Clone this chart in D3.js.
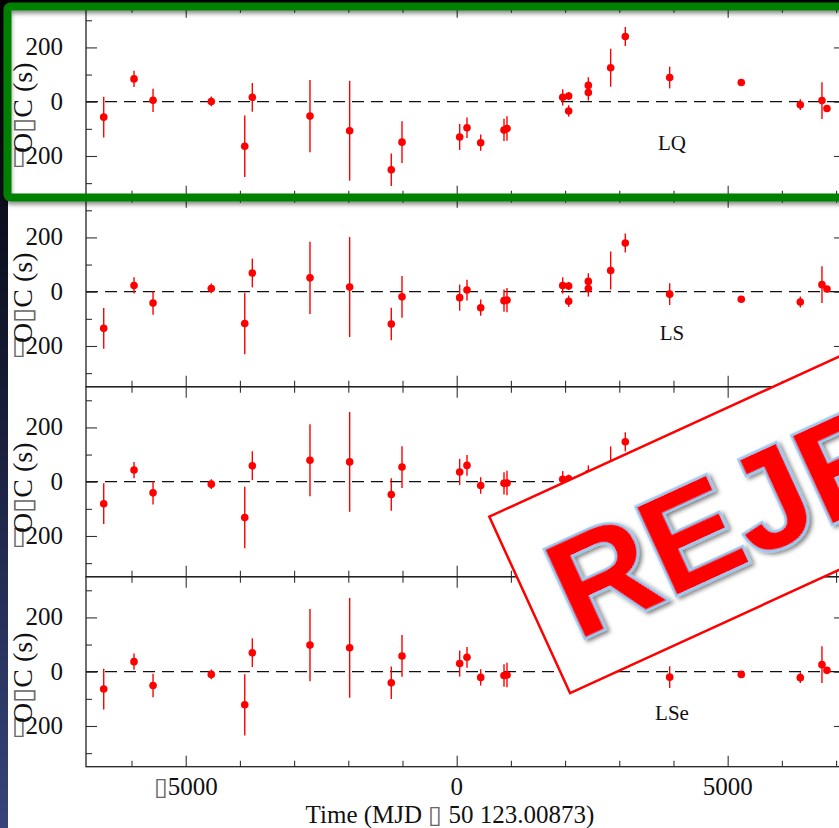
<!DOCTYPE html>
<html>
<head>
<meta charset="utf-8">
<script src="https://cdn.jsdelivr.net/npm/d3@7"></script>
<style>
  body { margin: 0; background: #fff; }
  svg { display: block; }
</style>
</head>
<body>
<div id="chart"></div>
<script>
// epochs of the timings, days from MJD 50 123.00873 (same for every panel)
const time = [-6513, -5954, -5603, -4528, -3911, -3771, -2707, -1975, -1207, -1009,
  55, 190, 443, 873, 928, 1956, 2066, 2066, 2429, 2429, 2841, 3111, 3930, 5251, 6340, 6740, 6832];
// 1-sigma error bars (s)
const errBar = [75, 30, 43, 18, 113, 53, 133, 184, 60, 77,
  48, 38, 30, 41, 45, 30, 15, 21, 30, 30, 70, 35, 40, 8, 20, 68, 6];
// O-C residuals (s) per ephemeris
const valLQ = [-57, 84, 5, 1, -164, 16, -53, -107, -251, -149,
  -130, -96, -151, -104, -99, 16, 21, -34, 60, 34, 125, 240, 89, 71, -11, 4, -25];
const valLS = [-135, 23, -42, 12, -117, 69, 51, 17, -119, -19,
  -22, 6, -59, -33, -31, 23, 21, -35, 38, 12, 78, 179, -9, -28, -38, 26, 10];
const valLN = [-81, 43, -41, -9, -132, 59, 79, 73, -47, 54,
  36, 60, -14, -6, -5, 9, 11, -30, 30, 8, 60, 147, -10, -15, -30, 20, 5];
const valLSe = [-64, 37, -51, -10, -122, 70, 98, 88, -41, 58,
  30, 53, -21, -14, -12, 10, 12, -25, 30, 10, 60, 120, -20, -10, -22, 26, 5];
const panelNames = ["LQ", "LS", "LN", "LSe"];
const panelValues = [valLQ, valLS, valLN, valLSe];

const xMajor = [-5000, 0, 5000];
const xMinor = [-6000, -4000, -3000, -2000, -1000, 1000, 2000, 3000, 4000, 6000, 7000];
const yMajor = [-200, 0, 200];
const yMinor = [-300, -100, 100, 300];

const W = 839, H = 828;
const left = 86, right = 845, top0 = 6.7, panelH = 190;
const serif = "'Liberation Serif', 'Times New Roman', serif";
const BOX = "\u25AF"; // the missing minus glyph shows as a box

// write a string into a text element, drawing the box glyph a bit lighter
function boxed(sel, str) {
  String(str).split(/(\u25AF)/).filter(s => s !== "").forEach(part => {
    const t = sel.append("tspan").text(part);
    if (part === BOX) t.attr("fill", "#666");
  });
}
const fmt = d => d < 0 ? BOX + Math.abs(d) : String(d);

const svg = d3.select("#chart").append("svg")
  .attr("width", W).attr("height", H);

const defs = svg.append("defs");
const grad = defs.append("linearGradient").attr("id", "band")
  .attr("x1", 0).attr("y1", 0).attr("x2", 0).attr("y2", 1);
grad.append("stop").attr("offset", 0).attr("stop-color", "#000");
grad.append("stop").attr("offset", 0.45).attr("stop-color", "#151a33");
grad.append("stop").attr("offset", 1).attr("stop-color", "#36447a");

const shadow = defs.append("filter").attr("id", "shadow")
  .attr("x", "-10%").attr("y", "-10%").attr("width", "130%").attr("height", "140%");
shadow.append("feDropShadow").attr("dx", 0).attr("dy", 3).attr("stdDeviation", 2)
  .attr("flood-color", "#000").attr("flood-opacity", 0.45);

const txtShadow = defs.append("filter").attr("id", "txtShadow")
  .attr("x", "-10%").attr("y", "-10%").attr("width", "130%").attr("height", "140%");
txtShadow.append("feDropShadow").attr("dx", 2).attr("dy", 3).attr("stdDeviation", 2)
  .attr("flood-color", "#000").attr("flood-opacity", 0.5);

// background: white page with dark slide strip on the left and on top
svg.append("rect").attr("width", W).attr("height", H).attr("fill", "#fff");
svg.append("rect").attr("width", 8).attr("height", H).attr("fill", "url(#band)");
svg.append("rect").attr("width", W).attr("height", 3).attr("fill", "#000");

const x = d3.scaleLinear().domain([-6840, 7165]).range([left, right]);

panelValues.forEach((vals, i) => {
  const y0 = top0 + i * panelH;
  const y = d3.scaleLinear().domain([-350, 350]).range([y0 + panelH, y0]);
  const g = svg.append("g");

  // zero line
  g.append("line")
    .attr("x1", left).attr("x2", right)
    .attr("y1", y(0)).attr("y2", y(0))
    .attr("stroke", "#111").attr("stroke-width", 1.2)
    .attr("stroke-dasharray", "12,7");

  // ticks (inward on all four sides)
  const tickStyle = sel => sel.call(s => s.select(".domain").remove())
    .selectAll("line").attr("stroke", "#333").attr("stroke-width", 1.1);
  [[xMajor, 11], [xMinor, 6]].forEach(([vals, len]) => {
    g.append("g").attr("transform", `translate(0,${y0 + panelH})`)
      .call(d3.axisBottom(x).tickValues(vals).tickSize(-len).tickFormat(""))
      .call(tickStyle);
    g.append("g").attr("transform", `translate(0,${y0})`)
      .call(d3.axisTop(x).tickValues(vals).tickSize(-len).tickFormat(""))
      .call(tickStyle);
  });
  [[yMajor, 11], [yMinor, 6]].forEach(([vals, len]) => {
    g.append("g").attr("transform", `translate(${left},0)`)
      .call(d3.axisLeft(y).tickValues(vals).tickSize(-len).tickFormat(""))
      .call(tickStyle);
    g.append("g").attr("transform", `translate(${right},0)`)
      .call(d3.axisRight(y).tickValues(vals).tickSize(-len).tickFormat(""))
      .call(tickStyle);
  });

  // frame
  g.append("rect")
    .attr("x", left).attr("y", y0).attr("width", right - left).attr("height", panelH)
    .attr("fill", "none").attr("stroke", "#222").attr("stroke-width", 1.3);

  // y tick labels
  g.selectAll(".ylab").data(yMajor).join("text")
    .attr("x", 63).attr("y", d => y(d) + 8)
    .attr("text-anchor", "end")
    .style("font-family", serif).style("font-size", "25px").attr("fill", "#111")
    .each(function(d) { boxed(d3.select(this), fmt(d)); });

  // y axis title
  g.append("text")
    .attr("transform", `translate(32,${y(0) + 6}) rotate(-90)`)
    .attr("text-anchor", "middle")
    .style("font-family", serif).style("font-size", "28px").attr("fill", "#111")
    .call(sel => boxed(sel, "O" + BOX + "C (s)"));

  // panel name
  g.append("text")
    .attr("x", 672).attr("y", y(0) + 48)
    .attr("text-anchor", "middle")
    .style("font-family", serif).style("font-size", "21px").attr("fill", "#111")
    .text(panelNames[i]);

  // error bars + points
  const pts = time.map((t, k) => ({t: t, v: vals[k], e: errBar[k]}));
  g.selectAll(".err").data(pts).join("line")
    .attr("x1", d => x(d.t)).attr("x2", d => x(d.t))
    .attr("y1", d => y(d.v - d.e)).attr("y2", d => y(d.v + d.e))
    .attr("stroke", "#f00").attr("stroke-width", 1.4);
  g.selectAll(".pt").data(pts).join("circle")
    .attr("cx", d => x(d.t)).attr("cy", d => y(d.v)).attr("r", 3.8)
    .attr("fill", "#f00");

  // x tick labels on the bottom panel only
  if (i === panelValues.length - 1) {
    g.selectAll(".xlab").data(xMajor).join("text")
      .attr("x", d => x(d)).attr("y", 795)
      .attr("text-anchor", "middle")
      .style("font-family", serif).style("font-size", "25px").attr("fill", "#111")
      .each(function(d) { boxed(d3.select(this), fmt(d)); });
  }
});

// x axis title
svg.append("text")
  .attr("x", 450).attr("y", 823)
  .attr("text-anchor", "middle")
  .style("font-family", serif).style("font-size", "25px").attr("fill", "#111")
  .call(sel => boxed(sel, "Time (MJD " + BOX + " 50 123.00873)"));

// green highlight frame around the first panel
svg.append("rect")
  .attr("x", 7.5).attr("y", 6.5).attr("width", 900).attr("height", 191)
  .attr("rx", 3)
  .attr("fill", "none").attr("stroke", "#008000").attr("stroke-width", 8)
  .attr("filter", "url(#shadow)");

// REJECTED stamp
const stamp = svg.append("g")
  .attr("transform", "translate(489.3,516.7) rotate(-24.6)");
stamp.append("rect")
  .attr("x", 0).attr("y", 0).attr("width", 820).attr("height", 194)
  .attr("fill", "#fff").attr("stroke", "#f00").attr("stroke-width", 2.5);
stamp.append("text")
  .attr("x", 28).attr("y", 149)
  .style("font-family", "'Liberation Sans', Arial, sans-serif")
  .style("font-weight", "bold").style("font-size", "140px")
  .attr("fill", "#f00").attr("stroke", "#9cc9f2").attr("stroke-width", 5)
  .attr("paint-order", "stroke")
  .attr("filter", "url(#txtShadow)")
  .text("REJECTED");
</script>
</body>
</html>
